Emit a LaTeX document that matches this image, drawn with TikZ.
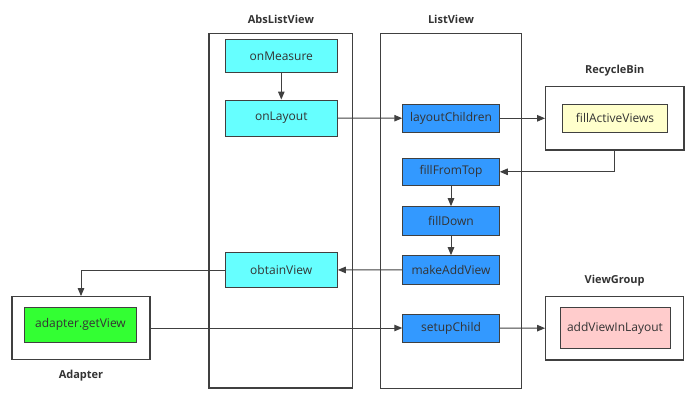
\documentclass[tikz,border=0pt]{standalone}
\usepackage{fontspec}
\setmainfont{Open Sans}
\usetikzlibrary{arrows.meta, positioning, calc}
\definecolor{lineGray}{HTML}{404040}
\definecolor{textGray}{HTML}{333333}
\definecolor{absCyan}{HTML}{66FFFF}
\definecolor{listBlue}{HTML}{3399FF}
\definecolor{binYellow}{HTML}{FFFFCC}
\definecolor{adapterGreen}{HTML}{33FF33}
\definecolor{groupPink}{HTML}{FFCCCC}

\begin{document}
\begin{tikzpicture}[x=1pt, y=-1pt,
  frame/.style={draw=lineGray, line width=1.2pt, inner sep=0pt},
  method/.style={draw=lineGray, line width=0.9pt, inner sep=0pt, text=textGray,
    font=\fontsize{12}{14}\selectfont},
  title/.style={inner sep=0pt, text=textGray, font=\fontsize{11}{13}\selectfont\bfseries},
  flow/.style={draw=lineGray, line width=1pt, -{Triangle[length=8pt,width=6.5pt]}}
]
\useasboundingbox (0,0) rectangle (700,401);

% Class frames
\node[frame, minimum width=143.7pt, minimum height=354.7pt] (abs) at (280.9,210.7) {};
\node[frame, minimum width=141.4pt, minimum height=355pt] (list) at (451,210.8) {};
\node[frame, minimum width=138.3pt, minimum height=63.3pt] (recycle) at (614.8,118.3) {};
\node[frame, minimum width=138pt, minimum height=63.3pt] (group) at (614.7,328.3) {};
\node[frame, minimum width=138pt, minimum height=62.6pt] (adapterBox) at (81,328) {};

\node[title, above=9pt of abs] {AbsListView};
\node[title, above=9pt of list] {ListView};
\node[title, above=10pt of recycle] {RecycleBin};
\node[title, above=10pt of group] {ViewGroup};
\node[title, below=10pt of adapterBox] {Adapter};

% AbsListView methods
\node[method, fill=absCyan, minimum width=112.7pt, minimum height=32.7pt] (measure) at (281.3,56.3) {onMeasure};
\node[method, fill=absCyan, minimum width=112.7pt, minimum height=36pt] (layout) at (281.3,118) {onLayout};
\node[method, fill=absCyan, minimum width=112.3pt, minimum height=35.4pt] (obtainView) at (281.2,270) {obtainView};

% ListView methods
\node[method, fill=listBlue, minimum width=96.6pt, minimum height=28.7pt] (layoutChildren) at (451,118.3) {layoutChildren};
\node[method, fill=listBlue, minimum width=96.6pt, minimum height=27.7pt] (fillFromTop) at (451,171.8) {fillFromTop};
\node[method, fill=listBlue, minimum width=96.6pt, minimum height=28.3pt] (fillDown) at (451,220.8) {fillDown};
\node[method, fill=listBlue, minimum width=96.6pt, minimum height=28.3pt] (makeAddView) at (451,269.8) {makeAddView};
\node[method, fill=listBlue, minimum width=96.6pt, minimum height=28pt] (setupChild) at (451,328) {setupChild};

% other classes
\node[method, fill=binYellow, minimum width=104.6pt, minimum height=28.3pt] (fillActive) at (615,118.2) {fillActiveViews};
\node[method, fill=groupPink, minimum width=110pt, minimum height=40.6pt] (addView) at (615,328) {addViewInLayout};
\node[method, fill=adapterGreen, minimum width=112.4pt, minimum height=35pt] (getView) at (80.5,324.8) {adapter.getView};

% Calls
\draw[flow] (measure) -- (layout);
\draw[flow] (layout) -- (layoutChildren);
\draw[flow] (layoutChildren) -- (recycle);
\draw[flow] (recycle.south) |- (fillFromTop);
\draw[flow] (fillFromTop) -- (fillDown);
\draw[flow] (fillDown) -- (makeAddView);
\draw[flow] (makeAddView) -- (obtainView);
\draw[flow] (obtainView) -| (adapterBox.north);
\draw[flow] (adapterBox) -- (setupChild);
\draw[flow] (setupChild) -- (group);

\end{tikzpicture}
\end{document}
